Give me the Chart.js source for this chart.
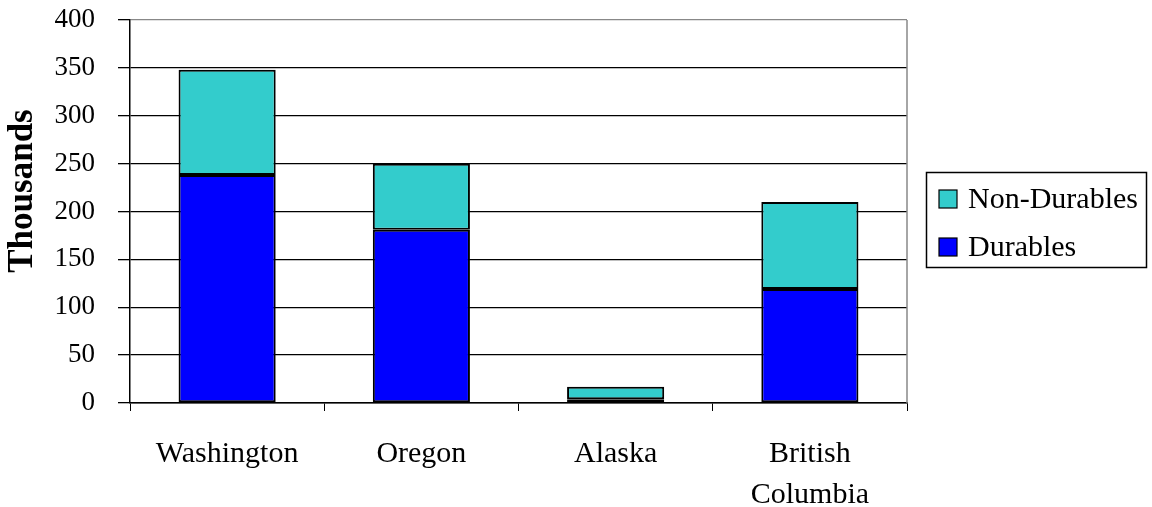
<!DOCTYPE html>
<html>
<head>
<meta charset="utf-8">
<script src="https://cdn.jsdelivr.net/npm/chart.js@4.4.1/dist/chart.umd.min.js"></script>
<style>
  html, body { margin: 0; padding: 0; background: #fff; }
  #wrap { width: 1152px; height: 507px; position: relative; }
</style>
</head>
<body>
<div id="wrap"><canvas id="c" width="1152" height="507"></canvas></div>
<script>
const categories = ['Washington', 'Oregon', 'Alaska', ['British', 'Columbia']];
const durables = [238, 181, 4, 119];
const nonDurables = [110, 69, 13, 91];
const seriesNames = ['Durables', 'Non-Durables'];
const seriesColors = ['#0000FF', '#33CCCC'];
const yTicks = [0, 50, 100, 150, 200, 250, 300, 350, 400];
const yTitle = 'Thousands';

const FONT = "'Liberation Serif', 'Times New Roman', serif";

const frame = {
  id: 'frame',
  afterDraw(chart) {
    const ctx = chart.ctx;
    const a = chart.chartArea;
    ctx.save();
    ctx.strokeStyle = '#888888';
    ctx.lineWidth = 1.5;
    ctx.beginPath();
    ctx.moveTo(a.right, a.top);
    ctx.lineTo(a.right, a.bottom);
    ctx.stroke();
    ctx.fillStyle = '#000';
    ctx.font = "bold 35px " + FONT;
    ctx.textAlign = 'center';
    ctx.textBaseline = 'middle';
    ctx.translate(23, 191);
    ctx.rotate(-Math.PI / 2);
    ctx.fillText(yTitle, 0, 0);
    ctx.restore();

    ctx.save();
    ctx.strokeStyle = '#000';
    ctx.lineWidth = 1.5;
    ctx.strokeRect(926.5, 172.5, 220, 95);
    const ds = chart.data.datasets.slice().reverse();
    ctx.font = "30px " + FONT;
    ctx.textBaseline = 'middle';
    ctx.textAlign = 'left';
    ds.forEach((d, i) => {
      const cy = 199 + i * 48;
      ctx.fillStyle = d.backgroundColor;
      ctx.fillRect(939, cy - 9, 18, 18);
      ctx.lineWidth = 1.2;
      ctx.strokeRect(939, cy - 9, 18, 18);
      ctx.fillStyle = '#000';
      ctx.fillText(d.label, 968, cy + 1);
    });
    ctx.restore();
  }
};

new Chart(document.getElementById('c'), {
  type: 'bar',
  data: {
    labels: categories,
    datasets: [
      { label: seriesNames[0], data: durables, backgroundColor: seriesColors[0], borderColor: '#000', borderWidth: 2, borderSkipped: false },
      { label: seriesNames[1], data: nonDurables, backgroundColor: seriesColors[1], borderColor: '#000', borderWidth: 2, borderSkipped: false }
    ]
  },
  options: {
    responsive: false,
    animation: false,
    devicePixelRatio: 1,
    layout: { padding: { top: 20, right: 245, left: 0, bottom: 0 } },
    plugins: { legend: { display: false }, tooltip: { enabled: false } },
    datasets: { bar: { categoryPercentage: 1.0, barPercentage: 0.5 } },
    scales: {
      x: {
        stacked: true,
        offset: true,
        grid: { display: true, drawOnChartArea: false, tickLength: 8, color: '#000', tickColor: '#000', offset: true },
        border: { color: '#000', width: 1.5 },
        ticks: { color: '#000', font: { family: FONT, size: 30, lineHeight: 1.38 }, padding: 22, maxRotation: 0, autoSkip: false },
        afterFit(s) { s.height = 104; }
      },
      y: {
        stacked: true,
        min: 0,
        max: 400,
        afterBuildTicks(s) { s.ticks = yTicks.map(v => ({ value: v })); },
        grid: {
          color: (c) => (c.tick && c.tick.value === 400 ? '#888888' : '#000'),
          lineWidth: 1.3,
          tickColor: '#000',
          tickLength: 12
        },
        border: { color: '#000', width: 1.5 },
        ticks: { color: '#000', font: { family: FONT, size: 27, lineHeight: 0.5 }, padding: 23 },
        afterFit(s) { s.width = 130; s.paddingTop = 0; s.paddingBottom = 0; }
      }
    }
  },
  plugins: [frame]
});
</script>
</body>
</html>
